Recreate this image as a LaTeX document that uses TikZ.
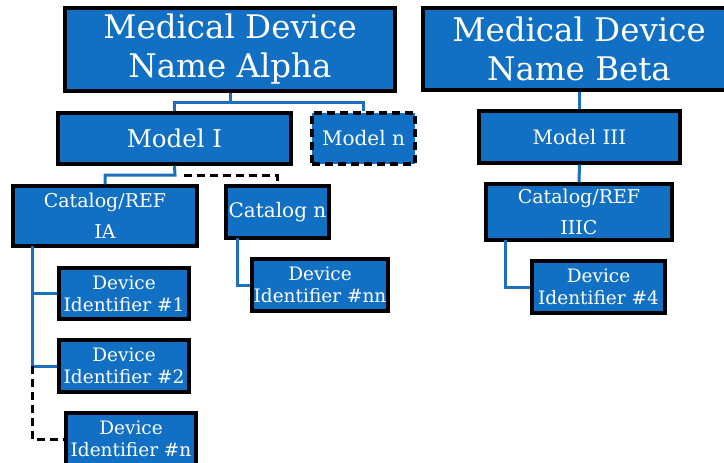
\documentclass[tikz,border=0pt]{standalone}
\usepackage{fontspec}
\setmainfont{DejaVu Serif}
\definecolor{boxblue}{RGB}{17,112,196}
\definecolor{linkblue}{RGB}{30,110,190}
\tikzset{
  box/.style={draw=black, line width=3.3pt, fill=boxblue, text=white,
    inner sep=0pt, align=center, minimum height=52pt},
  dashbox/.style={box, dash pattern=on 8pt off 5pt},
  link/.style={draw=linkblue, line width=3pt},
  dashlink/.style={draw=black, line width=3pt, dash pattern=on 8pt off 5pt},
  title/.style={font=\fontsize{32.5}{39}\selectfont},
  big/.style={font=\fontsize{24.5}{28}\selectfont},
  mid/.style={font=\fontsize{20}{23}\selectfont},
  cat/.style={font=\fontsize{19}{31}\selectfont},
  dev/.style={font=\fontsize{18.5}{22}\selectfont},
}
\begin{document}
\begin{tikzpicture}[x=1pt, y=-1pt]
\useasboundingbox (0,0) rectangle (724,463);
\fill[white] (0,0) rectangle (724,463);
\begin{scope}
\clip (0,0) rectangle (724,463);

% junction points of the connectors
\coordinate (jA) at (230,102);
\coordinate (jI) at (175,175);
\coordinate (jIs) at (184,175);
\coordinate (jIA) at (32,246);
\coordinate (jIA2) at (32,366);
\coordinate (jN) at (237,238);
\coordinate (jC) at (505,240);

% product names
\node[box, title, minimum width=330pt, minimum height=83pt] (alpha) at (230,49.5) {Medical Device\\Name Alpha};
\node[box, title, minimum width=312pt, minimum height=82pt] (beta) at (579,49) {Medical Device\\Name Beta};

% models
\node[box, big, minimum width=233pt, minimum height=51pt] (modelI) at (174.5,138.5) {Model I};
\node[dashbox, mid, minimum width=103pt, minimum height=51pt] (modelN) at (363.5,138.5) {Model n};
\node[box, mid, minimum width=201pt] (modelIII) at (579.5,137) {Model III};

% catalog numbers
\node[box, cat, minimum width=184pt, minimum height=60pt] (catIA) at (105,216) {Catalog/REF\\IA};
\node[box, mid, minimum width=103pt] (catN) at (277.5,212) {Catalog n};
\node[box, cat, minimum width=186pt, minimum height=56pt] (catIIIC) at (579,212) {Catalog/REF\\IIIC};

% device identifiers
\node[box, dev, minimum width=130pt, minimum height=51pt] (dev1) at (124,293.5) {Device\\Identifier \#1};
\node[box, dev, minimum width=130pt] (dev2) at (124,366) {Device\\Identifier \#2};
\node[box, dev, minimum width=130pt] (devN) at (131,439) {Device\\Identifier \#n};
\node[box, dev, minimum width=136pt] (devNN) at (320,285) {Device\\Identifier \#nn};
\node[box, dev, minimum width=133pt] (dev4) at (598.5,287) {Device\\Identifier \#4};

% connectors
\path[link] (alpha.south) -- (jA) -| (modelI.north);
\path[link] (jA) -| (modelN.north);
\path[link] (beta.south -| modelIII.north) -- (modelIII.north);
\path[link] (modelI.south) -- (jI) -| (catIA.north);
\path[dashlink] (jIs) -| (catN.north);
\path[link] (modelIII.south) -- (catIIIC.north);
\path[link] (jIA) -- (jIA2);
\path[link] (jIA |- dev1.west) -- (dev1.west);
\path[link] (jIA2) -- (dev2.west);
\path[dashlink] (jIA2) |- (devN.west);
\path[link] (jN) |- (devNN.west);
\path[link] (jC) |- (dev4.west);
\end{scope}
\end{tikzpicture}
\end{document}
